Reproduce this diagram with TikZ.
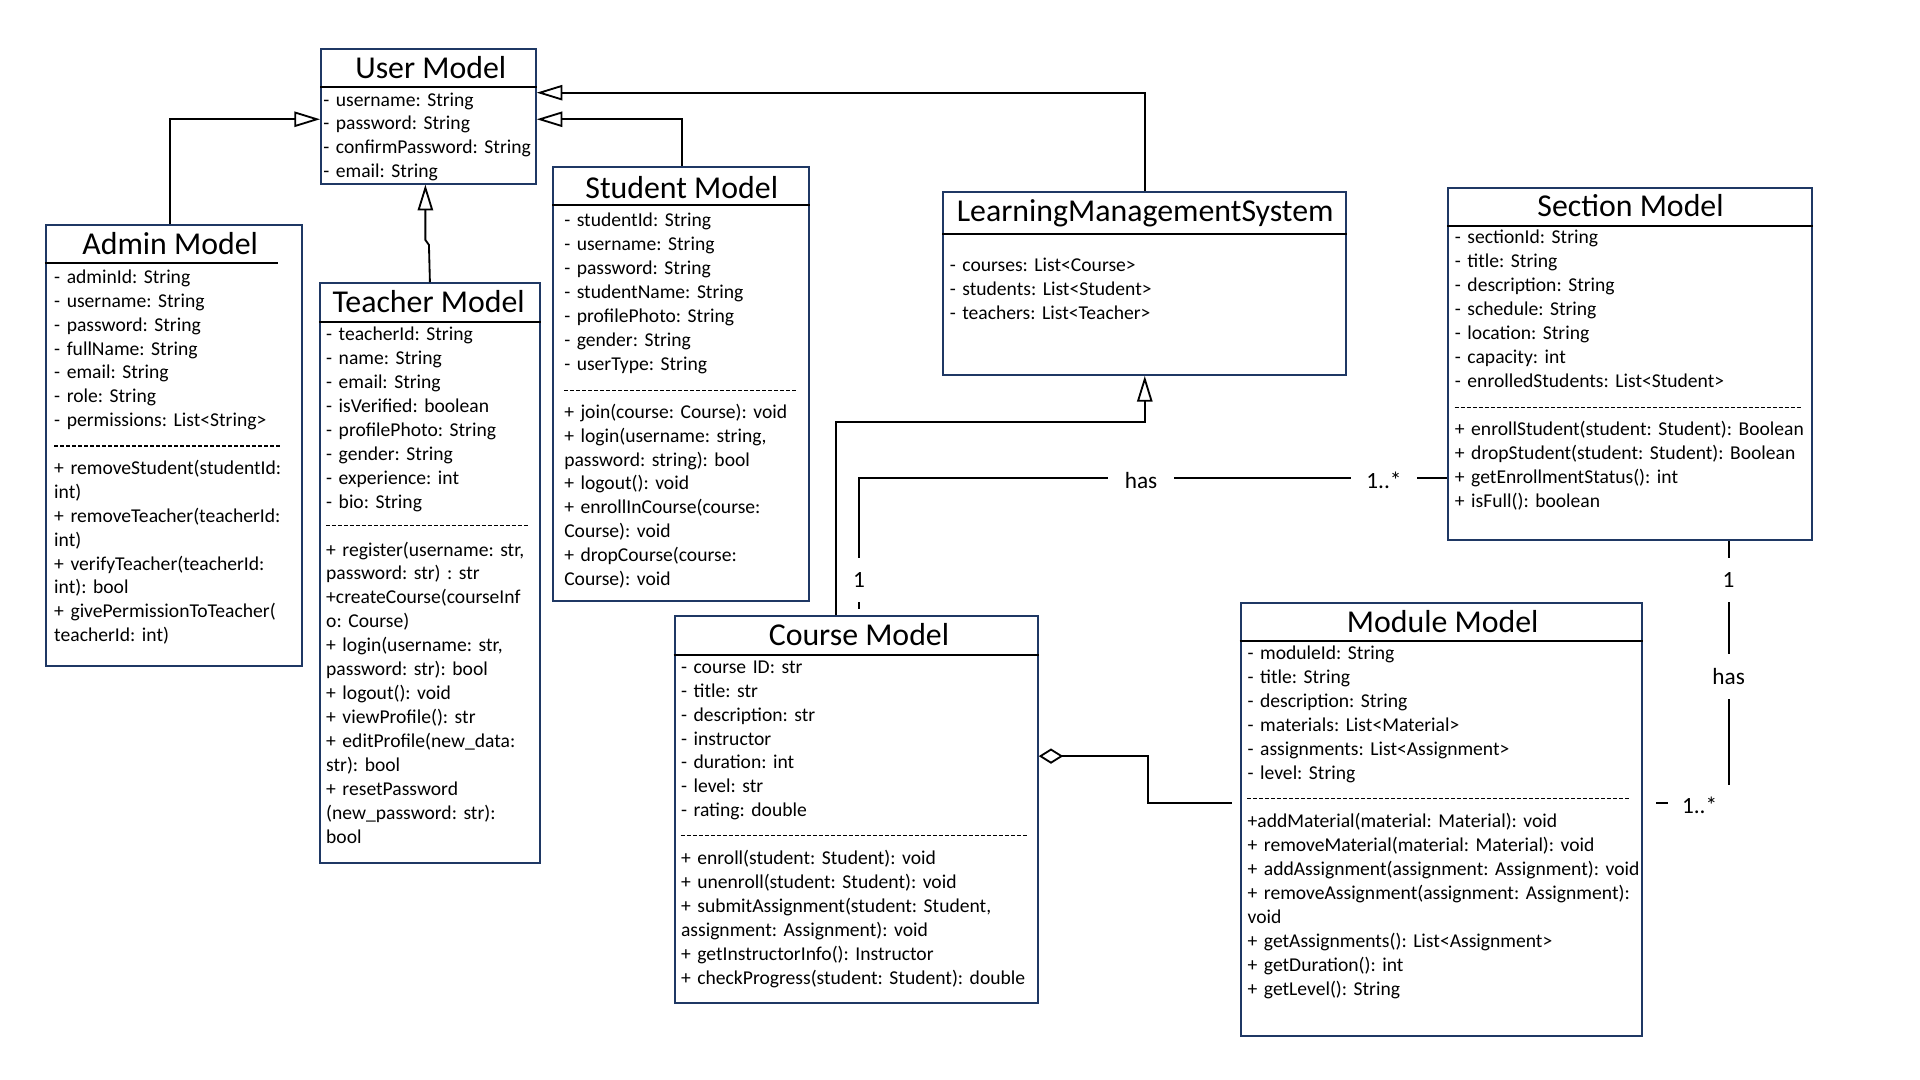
\documentclass[tikz,border=0pt]{standalone}
\usepackage{fontspec}
\setmainfont{Carlito}
\usepackage{xcolor}
\usetikzlibrary{arrows.meta}
\definecolor{boxblue}{RGB}{31,56,100}
\frenchspacing

\begin{document}
\begin{tikzpicture}[x=1pt,y=-1pt,
    cls/.style={draw=boxblue,line width=1.6pt,anchor=north west,inner sep=0pt},
    ttl/.style={anchor=base,inner sep=0pt,font=\fontsize{26}{30}\selectfont},
    txt/.style={anchor=base west,align=left,text width=420pt,inner sep=0pt,font=\fontsize{16}{19.55}\selectfont},
    sep/.style={line width=1.6pt},
    dsep/.style={line width=0.9pt,dash pattern=on 3.2pt off 1.7pt},
    gen/.style={line width=1.5pt,-{Triangle[open,length=21pt,width=12.5pt]}},
    agg/.style={line width=1.5pt,{Diamond[open,length=20pt,width=12.5pt]}-},
    assoc/.style={line width=1.5pt},
    hl/.style={fill=white,inner sep=0pt,minimum width=54pt,minimum height=20pt,font=\fontsize{19}{22}\selectfont},
    vl/.style={fill=white,inner sep=0pt,minimum width=12pt,minimum height=36pt,font=\fontsize{19}{22}\selectfont}]

    \useasboundingbox (0,0) rectangle (1568,882);

    \node[cls,minimum width=175.3pt,minimum height=110pt] (user) at (261.4,39.2) {};
    \node[ttl] (userT) at (351.8,64) {User Model};
    \draw[sep] (user.west |- 0,70.8) -- (user.east |- 0,70.8);
    \node[txt] (userA) at (263.9,86.6) {- username: String\\- password: String\\- confirmPassword: String\\- email: String};

    \node[cls,minimum width=208.8pt,minimum height=360.1pt] (admin) at (36.7,182.9) {};
    \node[ttl] (adminT) at (139,207.7) {Admin Model};
    \draw[sep] (admin.west |- 0,214.5) -- (227.3,214.5);
    \node[txt] (adminA) at (44.1,231.3) {- adminId: String\\- username: String\\- password: String\\- fullName: String\\- email: String\\- role: String\\- permissions: List<String>};
    \draw[dsep] (44.1,364.2) -- (230,364.2);
    \node[txt] (adminM) at (44.1,387.3) {+ removeStudent(studentId:\\int)\\+ removeTeacher(teacherId:\\int)\\+ verifyTeacher(teacherId:\\int): bool\\+ givePermissionToTeacher(\\teacherId: int)};

    \node[cls,minimum width=179.6pt,minimum height=473.6pt] (teacher) at (260.5,230.5) {};
    \node[ttl] (teacherT) at (350.1,255.3) {Teacher Model};
    \draw[sep] (teacher.west |- 0,262.7) -- (teacher.east |- 0,262.7);
    \node[txt] (teacherA) at (266.2,278.2) {- teacherId: String\\- name: String\\- email: String\\- isVerified: boolean\\- profilePhoto: String\\- gender: String\\- experience: int\\- bio: String};
    \draw[dsep] (266.2,429.5) -- (431.4,429.5);
    \node[txt] (teacherM) at (266.2,454.1) {+ register(username: str,\\password: str) : str\\+createCourse(courseInf\\o: Course)\\+ login(username: str,\\password: str): bool\\+ logout(): void\\+ viewProfile(): str\\+ editProfile(new\_data:\\str): bool\\+ resetPassword\\(new\_password: str):\\bool};

    \node[cls,minimum width=208.5pt,minimum height=354.9pt] (student) at (451,135.5) {};
    \node[ttl] (studentT) at (556.8,162) {Student Model};
    \draw[sep] (student.west |- 0,167.4) -- (student.east |- 0,167.4);
    \node[txt] (studentA) at (460.6,185.1) {- studentId: String\\- username: String\\- password: String\\- studentName: String\\- profilePhoto: String\\- gender: String\\- userType: String};
    \draw[dsep] (460.6,319) -- (650.9,319);
    \node[txt] (studentM) at (460.6,341.5) {+ join(course: Course): void\\+ login(username: string,\\password: string): bool\\+ logout(): void\\+ enrollInCourse(course:\\Course): void\\+ dropCourse(course:\\Course): void};

    \node[cls,minimum width=329.4pt,minimum height=149.4pt] (lms) at (769.4,156) {};
    \node[ttl] (lmsT) at (935.2,181) {LearningManagementSystem};
    \draw[sep] (lms.west |- 0,191.1) -- (lms.east |- 0,191.1);
    \node[txt] (lmsA) at (775.5,221.8) {- courses: List<Course>\\- students: List<Student>\\- teachers: List<Teacher>};

    \node[cls,minimum width=296.8pt,minimum height=288pt] (section) at (1182,152.4) {};
    \node[ttl] (sectionT) at (1331.6,176.9) {Section Model};
    \draw[sep] (section.west |- 0,184.3) -- (section.east |- 0,184.3);
    \node[txt] (sectionA) at (1188,199.2) {- sectionId: String\\- title: String\\- description: String\\- schedule: String\\- location: String\\- capacity: int\\- enrolledStudents: List<Student>};
    \draw[dsep] (1188,332.6) -- (1471,332.6);
    \node[txt] (sectionM) at (1188,355.6) {+ enrollStudent(student: Student): Boolean\\+ dropStudent(student: Student): Boolean\\+ getEnrollmentStatus(): int\\+ isFull(): boolean};

    \node[cls,minimum width=296.5pt,minimum height=315.5pt] (course) at (550.2,502.6) {};
    \node[ttl] (courseT) at (701.5,527) {Course Model};
    \draw[sep] (course.west |- 0,534.7) -- (course.east |- 0,534.7);
    \node[txt] (courseA) at (556,549.8) {- course ID: str\\- title: str\\- description: str\\- instructor\\- duration: int\\- level: str\\- rating: double};
    \draw[dsep] (556,682.3) -- (839.5,682.3);
    \node[txt] (courseM) at (556,706.4) {+ enroll(student: Student): void\\+ unenroll(student: Student): void\\+ submitAssignment(student: Student,\\assignment: Assignment): void\\+ getInstructorInfo(): Instructor\\+ checkProgress(student: Student): double};

    \node[cls,minimum width=328pt,minimum height=354.3pt] (module) at (1012.4,491.3) {};
    \node[ttl] (moduleT) at (1178.2,516.6) {Module Model};
    \draw[sep] (module.west |- 0,523.1) -- (module.east |- 0,523.1);
    \node[txt] (moduleA) at (1018.7,538.9) {- moduleId: String\\- title: String\\- description: String\\- materials: List<Material>\\- assignments: List<Assignment>\\- level: String};
    \draw[dsep] (1018.7,651.8) -- (1330.5,651.8);
    \node[txt] (moduleM) at (1018.7,676) {+addMaterial(material: Material): void\\+ removeMaterial(material: Material): void\\+ addAssignment(assignment: Assignment): void\\+ removeAssignment(assignment: Assignment):\\void\\+ getAssignments(): List<Assignment>\\+ getDuration(): int\\+ getLevel(): String};

    \draw[gen] (138.9,0 |- admin.north) |- (user.west |- 0,97.4);
    \draw[gen] (teacher.north) -- (350.3,200) -- (347.4,196) -- (347.4,0 |- user.south);
    \draw[gen] (557,0 |- student.north) |- (user.east |- 0,97.4);
    \draw[gen] (935.2,0 |- lms.north) |- (user.east |- 0,75.7);
    \draw[gen] (682.8,0 |- course.north) -- (682.8,344.8) -| (lms.south);
    \draw[agg,shorten >=6pt] (course.east |- 0,617.5) -- (937.3,617.5) |- (module.west |- 0,655.7);

    \draw[assoc,shorten <=5.3pt] (701.6,0 |- course.north) -- (701.6,390.6) -- (section.west |- 0,390.6);
    \node[vl] (oneC) at (701.6,473.5) {1};
    \node[hl] (hasCS) at (931.9,392.5) {has};
    \node[hl] (manyS) at (1130.2,392.5) {1..*};

    \draw[assoc,shorten >=10.4pt] (1411.7,0 |- section.south) -- (1411.7,656) -- (module.east |- 0,656);
    \node[vl] (oneS) at (1411.7,473.5) {1};
    \node[vl] (hasSM) at (1411.7,552.5) {has};
    \node[fill=white,inner sep=0pt,minimum width=52pt,minimum height=33pt,font=\fontsize{19}{22}\selectfont] (manyM) at (1388,657.5) {1..*};
\end{tikzpicture}
\end{document}
